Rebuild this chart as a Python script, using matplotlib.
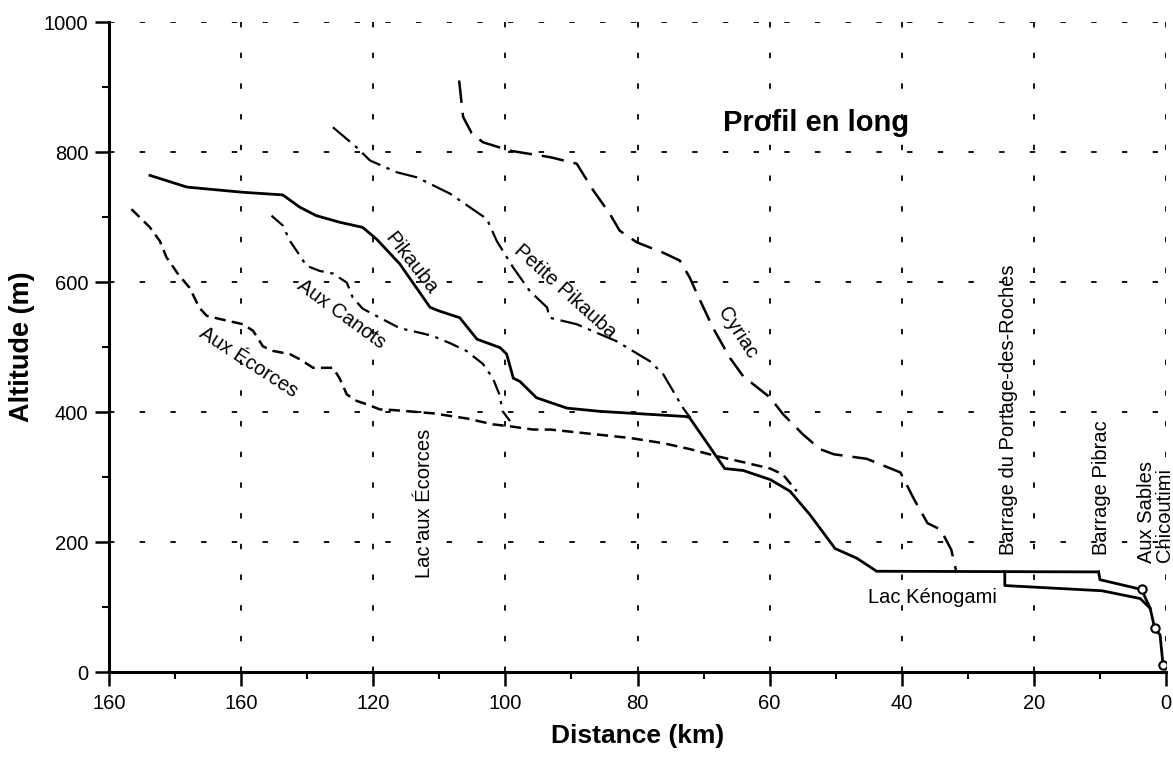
import matplotlib
matplotlib.use('Agg')
import matplotlib.pyplot as plt
from matplotlib.ticker import MultipleLocator

plt.rcParams['font.family'] = ['Liberation Sans', 'DejaVu Sans']

# --- data (km from mouth, altitude m) ---
pikauba_km = [153.8, 151.3, 148.2, 139.7, 133.7, 131.1, 128.6, 125.1, 121.6, 119.5,
              116.0, 111.4, 109.9, 106.9, 104.3, 100.8, 99.8, 98.8, 97.8, 95.3,
              90.7, 85.7, 72.6, 72.1, 66.8, 64.0, 59.9, 56.9, 53.9, 50.9, 50.1,
              46.8, 43.8, 10.2]
pikauba_alt = [764, 756, 746, 738, 734, 715, 702, 692, 684, 666,
               628, 561, 555, 545, 512, 499, 489, 452, 447, 422,
               406, 401, 393, 391, 313, 310, 296, 278, 242, 201, 190,
               175, 155, 154]

aux_sables_km = [10.2, 10.0, 3.7, 2.4, 1.7, 0.9, 0.45]
aux_sables_alt = [154, 142, 127, 98, 67, 57, 11]

chicoutimi_km = [24.4, 24.4, 9.7, 3.9, 2.4]
chicoutimi_alt = [154, 133, 125, 113, 98]

stations_km = [3.7, 1.7, 0.45]
stations_alt = [127, 67, 11]

ecorces_km = [156.6, 153.8, 152.3, 151.3, 149.6, 147.8, 146.3, 145.2, 143.2, 139.7,
              138.2, 136.7, 135.2, 132.6, 131.1, 129.1, 126.1, 125.1, 124.0, 122.5,
              121.0, 119.0, 117.0, 111.0, 105.8, 101.9, 99.3, 95.8, 93.2, 81.1,
              76.1, 72.1, 68.0, 64.5, 59.9, 58.0, 55.9]
ecorces_alt = [712, 684, 663, 638, 613, 591, 560, 548, 543, 535,
               525, 501, 494, 489, 481, 468, 468, 452, 427, 417,
               412, 404, 403, 398, 390, 381, 378, 373, 373, 360,
               352, 343, 332, 324, 313, 304, 278]

canots_km = [135.4, 133.7, 132.6, 131.6, 130.1, 128.1, 126.1, 124.0, 123.1, 121.6,
             119.0, 116.0, 113.0, 111.0, 108.4, 105.9, 103.4, 101.9, 100.9, 100.4, 99.3]
canots_alt = [702, 687, 663, 648, 625, 617, 613, 599, 576, 559,
              545, 529, 522, 517, 506, 494, 474, 452, 427, 401, 386]

petite_km = [126.1, 122.5, 120.5, 116.5, 113.4, 108.4, 102.8, 101.3, 98.8, 96.3,
             93.7, 93.3, 89.2, 83.2, 78.1, 76.1, 73.1, 72.0]
petite_alt = [838, 807, 787, 769, 761, 736, 697, 663, 622, 586,
              561, 545, 535, 509, 478, 458, 406, 391]

cyriac_km = [107.0, 106.4, 105.1, 103.4, 99.3, 93.2, 89.2, 86.7, 84.2, 82.7,
             80.1, 76.1, 73.6, 72.1, 71.0, 68.6, 66.0, 64.0, 59.9, 58.0,
             55.0, 52.4, 50.3, 45.3, 40.2, 38.1, 36.1, 34.1, 32.5, 31.8]
cyriac_alt = [910, 854, 829, 815, 802, 792, 782, 741, 705, 679,
              661, 645, 633, 607, 582, 530, 483, 455, 422, 397,
              366, 343, 335, 328, 307, 265, 229, 219, 188, 157]

x_ticks = [160, 140, 120, 100, 80, 60, 40, 20, 0]
x_tick_labels = ['160', '160', '120', '100', '80', '60', '40', '20', '0']
y_ticks = [0, 200, 400, 600, 800, 1000]

fig = plt.figure(figsize=(11.73, 7.59), dpi=100)
ax = fig.add_axes([109 / 1173, 1 - 672 / 759, 1057 / 1173, 650 / 759])

grid_style = dict(color='black', lw=1.3, linestyle=(0, (3, 14)))
for xv in x_ticks[1:]:
    ax.axvline(xv, **grid_style, zorder=1)
for yv in y_ticks[1:]:
    ax.axhline(yv, **grid_style, zorder=1)

ax.plot(pikauba_km, pikauba_alt, color='black', lw=2.0, zorder=3)
ax.plot(aux_sables_km, aux_sables_alt, color='black', lw=2.0, zorder=3)
ax.plot(chicoutimi_km, chicoutimi_alt, color='black', lw=2.0, zorder=3)
ax.plot(stations_km, stations_alt, linestyle='none', marker='o', ms=6,
        mfc='white', mec='black', mew=1.5, zorder=4)
ax.plot(ecorces_km, ecorces_alt, color='black', lw=1.8, linestyle=(0, (4.5, 2.5)), zorder=2)
ax.plot(canots_km, canots_alt, color='black', lw=1.6, linestyle=(0, (7, 3, 1.5, 3)), zorder=2)
ax.plot(petite_km, petite_alt, color='black', lw=1.6, linestyle=(0, (10, 3, 1.5, 3)), zorder=2)
ax.plot(cyriac_km, cyriac_alt, color='black', lw=1.8, linestyle=(0, (9, 4)), zorder=2)

ax.set_xlim(160, 0)
ax.set_ylim(0, 1000)
ax.set_xticks(x_ticks)
ax.set_xticklabels(x_tick_labels)
ax.set_yticks(y_ticks)
ax.xaxis.set_minor_locator(MultipleLocator(10))
ax.yaxis.set_minor_locator(MultipleLocator(100))
ax.tick_params(which='major', direction='out', length=10, width=1.8, labelsize=14.5)
ax.tick_params(axis='x', which='major', pad=6)
ax.tick_params(axis='y', which='major', pad=5)
ax.tick_params(which='minor', direction='out', length=5, width=1.5)
for side in ['top', 'right']:
    ax.spines[side].set_visible(False)
for side in ['left', 'bottom']:
    ax.spines[side].set_linewidth(2.2)

ax.set_xlabel('Distance (km)', fontsize=19, fontweight='bold', labelpad=8)
ax.set_ylabel('Altitude (m)', fontsize=19.5, fontweight='bold', labelpad=6)

ax.text(53.0, 845, 'Profil en long', fontsize=21, fontweight='bold', ha='center', va='center')

lab = dict(fontsize=14.5, ha='center', va='center', rotation_mode='anchor')
ax.text(114.2, 628, 'Pikauba', rotation=-52, **lab)
ax.text(90.9, 585, 'Petite Pikauba', rotation=-42, **lab)
ax.text(64.9, 522, 'Cyriac', rotation=-57, **lab)
ax.text(124.9, 550, 'Aux Canots', rotation=-36, **lab)
ax.text(138.9, 476, 'Aux Écorces', rotation=-33, **lab)
ax.text(112.2, 260, 'Lac aux Écorces', rotation=90, **lab)
ax.text(35.3, 114, 'Lac Kénogami', **lab)

vlab = dict(fontsize=14.5, ha='center', va='bottom', rotation=90, clip_on=False)
ax.text(23.9, 180, 'Barrage du Portage-des-Roches', **vlab)
ax.text(9.8, 180, 'Barrage Pibrac', **vlab)
ax.text(2.95, 168, 'Aux Sables', **vlab)
ax.text(0.3, 170, 'Chicoutimi', **vlab)

fig.savefig('out.png', dpi=100)
